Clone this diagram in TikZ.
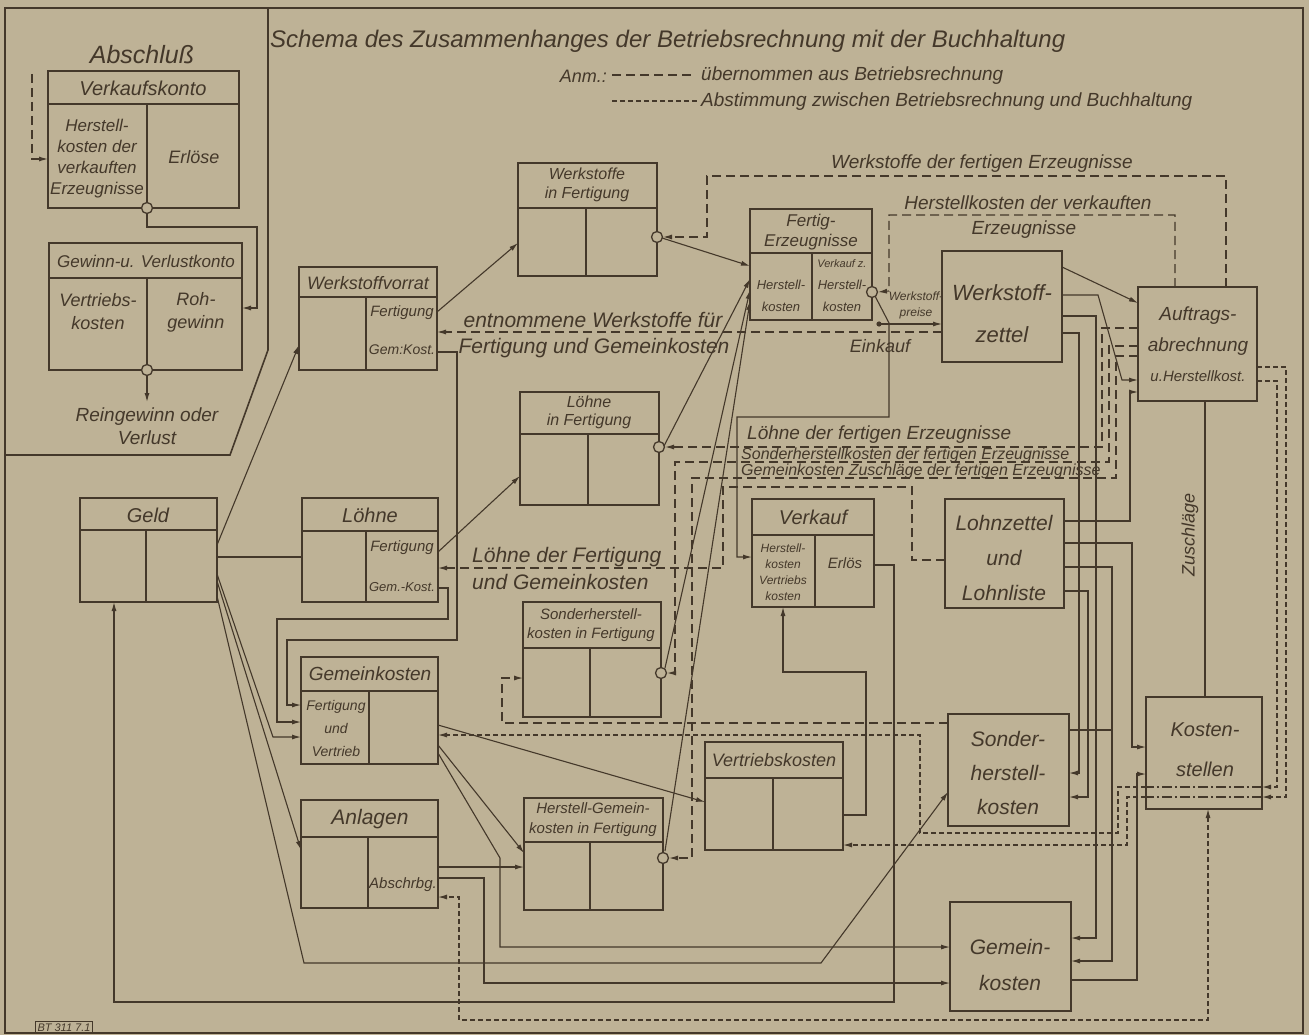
\documentclass[tikz,border=0pt]{standalone}
\usepackage{fontspec}
\setmainfont{Liberation Sans}
\usetikzlibrary{arrows.meta,fit,calc}
\definecolor{bg}{RGB}{190,178,150}
\definecolor{ink}{RGB}{68,56,42}
\newcommand\fs[2]{\fontsize{#1}{#2}\selectfont\itshape}
\newcommand\acct[7]{%
  \node[acc, fit={(#2,#3) (#4,#5)}] (#1) {};
  \draw[accl] (#2,#6) -- (#4,#6) (#7,#6) -- (#7,#5);}
\begin{document}
\begin{tikzpicture}[x=1pt,y=-1pt,
  >={Latex[length=9pt,width=5pt]},
  acc/.style={draw=ink, line width=2.4pt, inner sep=0pt, outer sep=0pt},
  accl/.style={draw=ink, line width=1.8pt},
  plainbox/.style={draw=ink, line width=2.6pt, inner sep=0pt, outer sep=0pt},
  ln/.style={draw=ink, line width=1.1pt},
  ud/.style={ln, dash pattern=on 9pt off 5pt},
  ab/.style={ln, dash pattern=on 5pt off 3pt},
  dd/.style={ln, dash pattern=on 10pt off 3pt on 2pt off 3pt},
  circ/.style={circle, draw=ink, fill=bg, line width=1.3pt, minimum size=11pt, inner sep=0pt},
  lbl/.style={text=ink, inner sep=0pt, align=center},
]
\useasboundingbox (0,0) rectangle (1309,1035);
\fill[bg] (0,0) rectangle (1309,1035);

% frame
\draw[ink, line width=1.6pt] (5,8) rectangle (1303,1033);
\draw[ink, line width=1.6pt] (268,8) -- (268,350) -- (230,455) -- (5,455);

% account boxes
\acct{vk}{48}{71}{239}{208}{104}{147}
\acct{gv}{49}{243}{242}{370}{278}{147}
\acct{wif}{518}{163}{657}{276}{208}{586}
\acct{wv}{299}{267}{437}{370}{297}{366}
\acct{fe}{750}{209}{872}{320}{253}{812}
\acct{lif}{520}{392}{659}{505}{434}{588}
\acct{geld}{80}{498}{217}{602}{530}{146}
\acct{lo}{302}{498}{438}{602}{531}{366}
\acct{vkf}{752}{499}{874}{607}{535}{815}
\acct{sif}{523}{602}{661}{717}{648}{590}
\acct{gk}{301}{657}{438}{764}{691}{369}
\acct{an}{301}{800}{438}{908}{837}{368}
\acct{vtk}{705}{742}{843}{850}{778}{773}
\acct{hgf}{524}{798}{663}{910}{842}{590}

% plain boxes
\node[plainbox, fit={(942,251) (1062,362)}] (wz) {};
\node[plainbox, fit={(1138,287) (1257,401)}] (auf) {};
\node[plainbox, fit={(945,499) (1064,608)}] (lz) {};
\node[plainbox, fit={(948,714) (1069,826)}] (sk) {};
\node[plainbox, fit={(950,902) (1071,1011)}] (gkr) {};
\node[plainbox, fit={(1146,697) (1262,809)}] (ks) {};

% circles (positions)
\coordinate (pvk) at (147,208);
\coordinate (pgv) at (147,370);
\coordinate (pwif) at (657,237);
\coordinate (plif) at (659,447);
\coordinate (psif) at (661,673);
\coordinate (phgf) at (663,858);
\coordinate (pfe) at (872,292);

% ---------- Abschluss connectors
\draw[ud,->] (32,74) -- (32,159) -- (vk.west |- 0,159);
\draw[ln,->] (pvk) -- (147,227) -- (257,227) -- (257,308) -- (gv.east |- 0,308);
\coordinate (rg) at (147,402);
\draw[ln,->] (pgv) -- (rg);

% ---------- solid connectors, left part
\draw[ln,->] (geld.east |- 0,545) -- (wv.west |- 0,345);
\draw[ln] (geld.east |- 0,557) -- (lo.west |- 0,557);
\draw[ln,->] (geld.east |- 0,574) -- (273,737) -- (gk.west |- 0,737);
\draw[ln,->] (geld.east |- 0,581) -- (an.west |- 0,850);
\draw[ln,->] (geld.east |- 0,596) -- (304,963) -- (821,963) -- (sk.west |- 0,792);
\draw[ln,<-] (geld.south -| 114,0) -- (114,1002) -- (894,1002) -- (894,565) -- (vkf.east |- 0,565);

\draw[ln,->] (wv.east |- 0,312) -- (wif.west |- 0,243);
\draw[ln,->] (wv.east |- 0,352) -- (457,352) -- (457,640) -- (287,640) -- (287,705) -- (gk.west |- 0,705);
\draw[ln,->] (lo.east |- 0,588) -- (448,588) -- (448,619) -- (277,619) -- (277,722) -- (gk.west |- 0,722);
\draw[ln,->] (lo.east |- 0,552) -- (lif.west |- 0,476);

\draw[ln,->] ($(pwif)+(5,1)$) -- (fe.west |- 0,266);
\draw[ln,->] ($(plif)+(5,-1)$) -- (fe.west |- 0,279);
\draw[ln,->] ($(psif)+(4,-5)$) -- (fe.west |- 0,290);
\draw[ln,->] ($(phgf)+(2,-7)$) -- (fe.west |- 0,301);

\draw[ln,->] ($(pfe)+(3,4)$) -- (889,323) -- (889,417) -- (737,417) -- (737,557) -- (vkf.west |- 0,557);
\coordinate (wp) at (879,324);
\fill[ink] (wp) circle (2.6);
\draw[ln,->] (wp) -- (wz.west |- 0,324);

\draw[ln,->] (gk.east |- 0,725) -- (vtk.west |- 0,802);
\draw[ln,->] (gk.east |- 0,745) -- (hgf.west |- 0,853);
\draw[ln,->] (gk.east |- 0,753) -- (500,858) -- (500,947) -- (gkr.west |- 0,947);
\draw[ln,->] (an.east |- 0,867) -- (hgf.west |- 0,867);
\draw[ln,->] (an.east |- 0,878) -- (484,878) -- (484,983) -- (gkr.west |- 0,983);
\draw[ln,->] (vtk.east |- 0,815) -- (866,815) -- (866,672) -- (783,672) -- (vkf.south -| 783,0);

% ---------- solid connectors, right bundle
\draw[ln,->] (wz.east |- 0,267) -- (auf.west |- 0,303);
\draw[ln,->] (wz.east |- 0,295) -- (1098,295) -- (1122,380) -- (auf.west |- 0,380);
\draw[ln,->] (wz.east |- 0,316) -- (1096,316) -- (1096,938) -- (gkr.east |- 0,938);
\draw[ln,->] (wz.east |- 0,333) -- (1079,333) -- (1079,773) -- (sk.east |- 0,773);
\draw[ln,->] (lz.east |- 0,521) -- (1130,521) -- (1130,392) -- (auf.west |- 0,392);
\draw[ln,->] (lz.east |- 0,543) -- (1132,543) -- (1132,747) -- (ks.west |- 0,747);
\draw[ln,->] (lz.east |- 0,567) -- (1112,567) -- (1112,961) -- (gkr.east |- 0,961);
\draw[ln] (sk.east |- 0,730) -- (1112,730);
\draw[ln,->] (lz.east |- 0,591) -- (1088,591) -- (1088,797) -- (sk.east |- 0,797);
\draw[ln,->] (gkr.east |- 0,980) -- (1137,980) -- (1137,774) -- (ks.west |- 0,774);
\draw[ln] (auf.south -| 1205,0) -- (ks.north -| 1205,0);

% ---------- dashed: übernommen aus Betriebsrechnung
\draw[ud,->] (auf.north -| 1226,0) -- (1226,176) -- (707,176) -- (707,237) -- ($(pwif)+(6,0)$);
\draw[ud,->] (auf.north -| 1175,0) -- (1175,215) -- (889,215) -- (889,291) -- ($(pfe)+(6,0)$);
\draw[ud,->] (wz.west |- 0,332) -- (wv.east |- 0,332);
\draw[ud,->] (auf.west |- 0,328) -- (1102,328) -- (1102,447) -- ($(plif)+(6,0)$);
\draw[ud,->] (auf.west |- 0,346) -- (1109,346) -- (1109,462) -- (675,462) -- (675,673) -- ($(psif)+(6,0)$);
\draw[ud,->] (auf.west |- 0,356) -- (1116,356) -- (1116,478) -- (692,478) -- (692,858) -- ($(phgf)+(6,0)$);
\draw[ud,->] (lz.west |- 0,560) -- (912,560) -- (912,487) -- (723,487) -- (723,568) -- (lo.east |- 0,568);
\draw[ud,->] (sk.west |- 0,723) -- (502,723) -- (502,678) -- (sif.west |- 0,678);

% ---------- short dashed: Abstimmung
\draw[ab,->] (auf.east |- 0,381) -- (1277,381) -- (1277,787) -- (ks.east |- 0,787);
\draw[ab,->] (auf.east |- 0,367) -- (1286,367) -- (1286,797) -- (ks.east |- 0,797);
\draw[dd] (ks.east |- 0,787) -- (ks.west |- 0,787);
\draw[dd] (ks.east |- 0,797) -- (ks.west |- 0,797);
\draw[ab,->] (ks.west |- 0,787) -- (1118,787) -- (1118,833) -- (920,833) -- (920,735) -- (gk.east |- 0,735);
\draw[ab,->] (ks.west |- 0,797) -- (1127,797) -- (1127,845) -- (vtk.east |- 0,845);
\draw[ab,<->] (ks.south -| 1208,0) -- (1208,1020) -- (459,1020) -- (459,897) -- (an.east |- 0,897);

% circles on top
\node[circ] (cvk) at (pvk) {};
\node[circ] (cgv) at (pgv) {};
\node[circ] (cwif) at (pwif) {};
\node[circ] (clif) at (plif) {};
\node[circ] (csif) at (psif) {};
\node[circ] (chgf) at (phgf) {};
\node[circ] (cfe) at (pfe) {};

% legend
\node[lbl,font=\fs{24}{28},anchor=west] (title) at (270,41) {Schema des Zusammenhanges der Betriebsrechnung mit der Buchhaltung};
\node[lbl,font=\fs{18}{20},anchor=east] (anm) at (607,76) {Anm.:};
\coordinate (la1) at (612,75); \coordinate (lb1) at (695,75);
\coordinate (la2) at (612,101); \coordinate (lb2) at (697,101);
\draw[ud] (la1) -- (lb1);
\draw[ab] (la2) -- (lb2);
\node[lbl,font=\fs{19}{20},anchor=west] (leg1) at (701,76) {übernommen aus Betriebsrechnung};
\node[lbl,font=\fs{19}{20},anchor=west] (leg2) at (701,102) {Abstimmung zwischen Betriebsrechnung und Buchhaltung};

% texts: Abschluss
\node[lbl,font=\fs{25}{28}] (tabs) at (142,55) {Abschluß};
\node[lbl,font=\fs{20}{22}] (tvk) at (143,88) {Verkaufskonto};
\node[lbl,font=\fs{17}{21}] (tvk1) at (97,159) {Herstell-\\kosten der\\verkauften\\Erzeugnisse};
\node[lbl,font=\fs{18}{20}] (tvk2) at (194,157) {Erlöse};
\node[lbl,font=\fs{17}{20}] (tgv) at (146,261) {Gewinn-u. Verlustkonto};
\node[lbl,font=\fs{18}{23}] (tgv1) at (98,312) {Vertriebs-\\kosten};
\node[lbl,font=\fs{18}{23}] (tgv2) at (196,312) {Roh-\\gewinn};
\node[lbl,font=\fs{19}{23}] (trg) at (147,426) {Reingewinn oder\\Verlust};

% texts: accounts
\node[lbl,font=\fs{16}{19}] (twif) at (587,185) {Werkstoffe\\in Fertigung};
\node[lbl,font=\fs{18}{20}] (twv) at (368,283) {Werkstoffvorrat};
\node[lbl,font=\fs{15}{17}] (twv1) at (402,313) {Fertigung};
\node[lbl,font=\fs{14}{17}] (twv2) at (402,350) {Gem:Kost.};
\node[lbl,font=\fs{21}{24}] (tent1) at (593,320) {entnommene Werkstoffe für};
\node[lbl,font=\fs{21}{24}] (tent2) at (594,348) {Fertigung und Gemeinkosten};
\node[lbl,font=\fs{17}{20}] (tfe) at (811,232) {Fertig-\\Erzeugnisse};
\node[lbl,font=\fs{13}{22}] (tfe1) at (781,296) {Herstell-\\kosten};
\node[lbl,font=\fs{11}{12}] (tfe2) at (842,264) {Verkauf z.};
\node[lbl,font=\fs{13}{22}] (tfe3) at (842,296) {Herstell-\\kosten};
\node[lbl,font=\fs{12}{16}] (twp) at (916,305) {Werkstoff-\\preise};
\node[lbl,font=\fs{18}{20}] (tein) at (880,346) {Einkauf};
\node[lbl,font=\fs{19}{22}] (twfe) at (982,164) {Werkstoffe der fertigen Erzeugnisse};
\node[lbl,font=\fs{19}{22}] (thvk) at (1028,203) {Herstellkosten der verkauften};
\node[lbl,font=\fs{19}{22}] (thvk2) at (1024,230) {Erzeugnisse};
\node[lbl,font=\fs{22}{42}] (twz) at (1002,314) {Werkstoff-\\zettel};
\node[lbl,font=\fs{19}{31}] (tauf) at (1198,331) {Auftrags-\\abrechnung};
\node[lbl,font=\fs{15}{17}] (tauf2) at (1198,376) {u.Herstellkost.};
\node[lbl,font=\fs{16}{18}] (tlif) at (589,412) {Löhne\\in Fertigung};
\node[lbl,font=\fs{19}{22},anchor=west] (tlfe) at (747,435) {Löhne der fertigen Erzeugnisse};
\node[lbl,font=\fs{16}{18},anchor=west] (tsfe) at (741,455) {Sonderherstellkosten der fertigen Erzeugnisse};
\node[lbl,font=\fs{16}{18},anchor=west] (tgfe) at (741,471) {Gemeinkosten Zuschläge der fertigen Erzeugnisse};
\node[lbl,font=\fs{20}{22}] (tgeld) at (148,515) {Geld};
\node[lbl,font=\fs{20}{22}] (tlo) at (370,515) {Löhne};
\node[lbl,font=\fs{15}{17}] (tlo1) at (402,548) {Fertigung};
\node[lbl,font=\fs{13}{17}] (tlo2) at (402,587) {Gem.-Kost.};
\node[lbl,font=\fs{21}{24},anchor=west] (tldf1) at (472,557) {Löhne der Fertigung};
\node[lbl,font=\fs{21}{24},anchor=west] (tldf2) at (472,582) {und Gemeinkosten};
\node[lbl,font=\fs{20}{22}] (tvkf) at (813,517) {Verkauf};
\node[lbl,font=\fs{12}{16}] (tvkf1) at (783,572) {Herstell-\\kosten\\Vertriebs\\kosten};
\node[lbl,font=\fs{15}{17}] (tvkf2) at (845,563) {Erlös};
\node[lbl,font=\fs{21}{35}] (tlz) at (1004,558) {Lohnzettel\\und\\Lohnliste};
\node[lbl,font=\fs{18}{20},rotate=90] (tzu) at (1190,535) {Zuschläge};
\node[lbl,font=\fs{15}{19}] (tsif) at (591,625) {Sonderherstell-\\kosten in Fertigung};
\node[lbl,font=\fs{19}{22}] (tgk) at (370,674) {Gemeinkosten};
\node[lbl,font=\fs{14}{23}] (tgk1) at (336,728) {Fertigung\\und\\Vertrieb};
\node[lbl,font=\fs{21}{34}] (tsk) at (1008,773) {Sonder-\\herstell-\\kosten};
\node[lbl,font=\fs{20}{40}] (tks) at (1205,750) {Kosten-\\stellen};
\node[lbl,font=\fs{18}{20}] (tvtk) at (774,760) {Vertriebskosten};
\node[lbl,font=\fs{21}{24}] (tan) at (370,819) {Anlagen};
\node[lbl,font=\fs{15}{17}] (tan1) at (403,885) {Abschrbg.};
\node[lbl,font=\fs{15}{20}] (thgf) at (593,820) {Herstell-Gemein-\\kosten in Fertigung};
\node[lbl,font=\fs{21}{36}] (tgkr) at (1010,965) {Gemein-\\kosten};
\node[lbl,draw=ink,line width=1pt,font=\fs{11}{12},inner sep=2pt,anchor=north west] (tbt) at (35,1021) {BT 311 7.1};
\end{tikzpicture}
\end{document}
